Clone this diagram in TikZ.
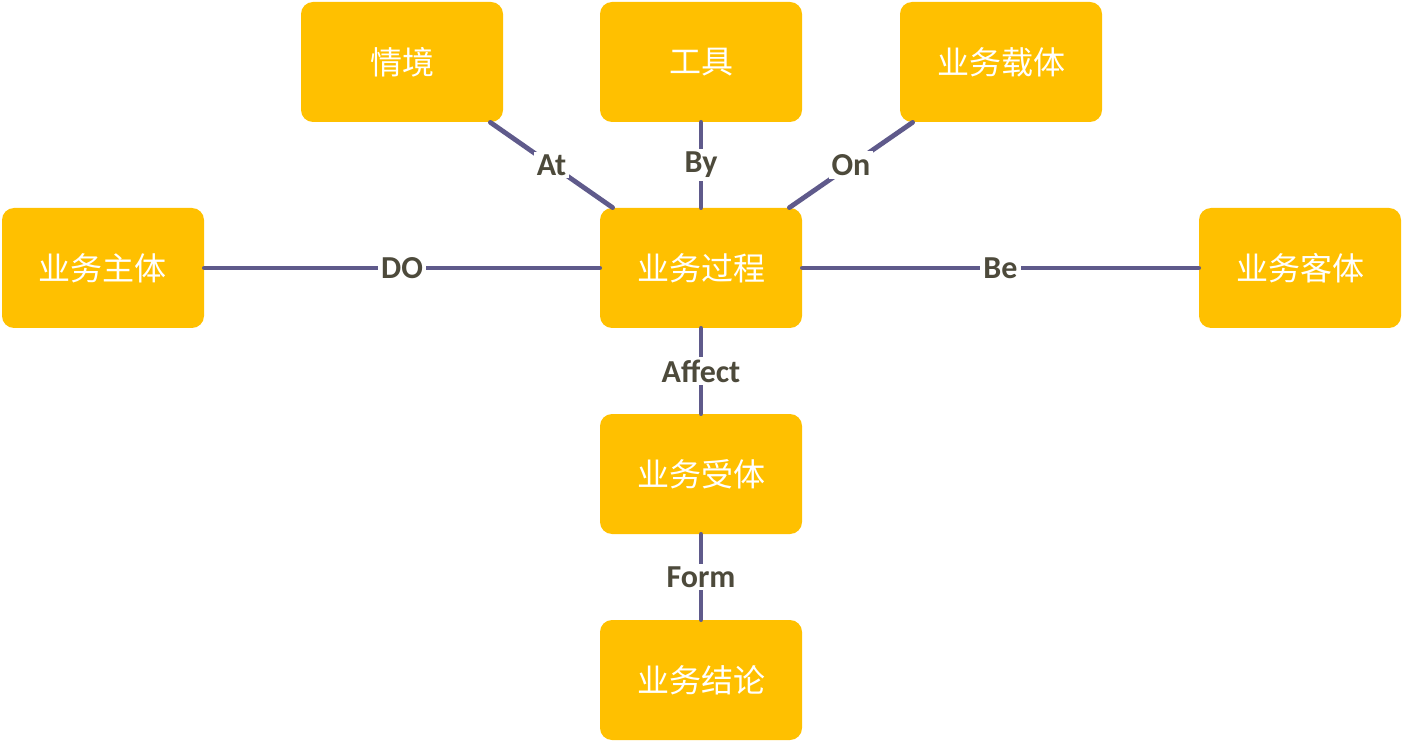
\documentclass[tikz,border=0pt]{standalone}
\usepackage{fontspec}
\setmainfont{Carlito}
\newfontfamily\cjk{Noto Sans CJK SC}
\usetikzlibrary{positioning}

\definecolor{boxgold}{HTML}{FFC000}
\definecolor{linkpurple}{HTML}{5F5A8B}
\definecolor{labelgray}{HTML}{4D4A3B}

\tikzset{
  unit/.style={rectangle, rounded corners=6pt, fill=boxgold, minimum width=101pt,
    minimum height=60pt, text=white, font=\cjk\fontsize{16}{18}\selectfont},
  link/.style={draw=linkpurple, line width=2.4pt, line cap=round},
  rel/.style={fill=white, text=labelgray, inner sep=1.5pt,
    font=\bfseries\fontsize{16}{18}\selectfont}
}

\begin{document}
\begin{tikzpicture}[x=0.5pt,y=-0.5pt]
    \useasboundingbox (0,0) rectangle (1403,743);

    % Boxes
    \node[unit] (qj) at (402,62)  {情境};
    \node[unit] (gj) at (701,62)  {工具};
    \node[unit] (zt) at (1001,62) {业务载体};
    \node[unit] (zh) at (103,268) {业务主体};
    \node[unit] (gc) at (701,268) {业务过程};
    \node[unit] (kt) at (1300,268) {业务客体};
    \node[unit] (st) at (701,474) {业务受体};
    \node[unit] (jl) at (701,680) {业务结论};

    % Relations
    \draw[link] ([xshift=-6.5pt]qj.south east) -- node[rel]{At} ([xshift=6.5pt]gc.north west);
    \draw[link] (gj) -- node[rel]{By} (gc);
    \draw[link] ([xshift=6.5pt]zt.south west) -- node[rel]{On} ([xshift=-6.5pt]gc.north east);
    \draw[link] (zh) -- node[rel]{DO} (gc);
    \draw[link] (gc) -- node[rel]{Be} (kt);
    \draw[link] (gc) -- node[rel]{Affect} (st);
    \draw[link] (st) -- node[rel]{Form} (jl);
\end{tikzpicture}
\end{document}
